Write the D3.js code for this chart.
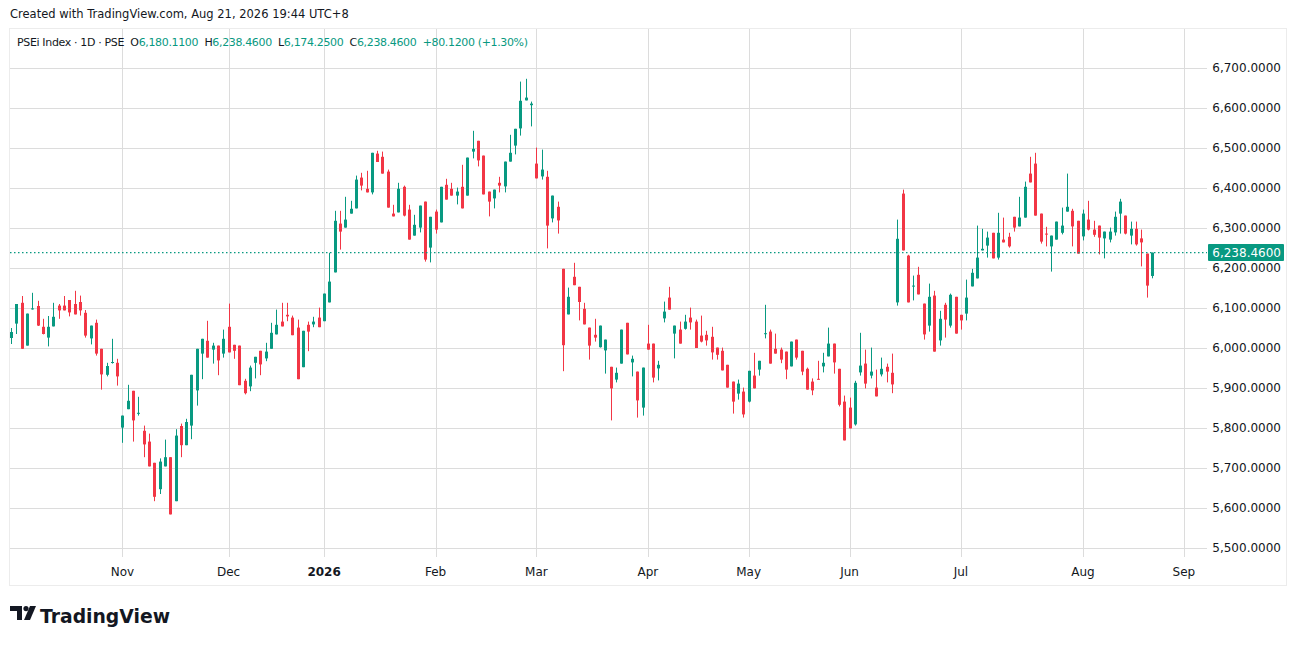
<!DOCTYPE html>
<html>
<head>
<meta charset="utf-8">
<script src="https://cdn.jsdelivr.net/npm/d3@7"></script>
<style>
  body { margin: 0; background: #fff; }
  svg text { font-family: "DejaVu Sans", "Noto Sans", sans-serif; white-space: pre; }
</style>
</head>
<body>
<svg id="chart" width="1296" height="646"></svg>
<script>
// PSEi daily candles (index = trading day)
var opens = [6025,6061,6113,6006,6097,6105,6053,6026,6054,6106,6106,6120,6110,6115,6088,6024,6063,5998,5933,5963,
  5963,5801,5847,5893,5837,5793,5766,5713,5647,5704,5727,5617,5805,5757,5806,5894,5986,6018,5996,6006,
  5986,6053,6008,6006,5918,5904,5963,5993,5974,5998,6034,6066,6083,6076,6051,5952,6058,6059,6076,6067,
  6114,6189,6311,6301,6336,6349,6426,6398,6389,6486,6478,6441,6336,6339,6403,6346,6281,6301,6366,6251,
  6341,6314,6408,6398,6381,6403,6381,6491,6518,6481,6391,6374,6413,6404,6466,6506,6549,6619,6607,6461,
  6429,6428,6324,6353,6198,6084,6178,6153,6098,6051,6033,6002,5994,5953,5921,5961,6063,5964,5941,5851,
  6011,6011,5949,6074,6126,6036,6046,6048,6076,6066,6031,6033,6028,6001,5993,5958,5916,5886,5891,5866,
  5931,5946,6035,6041,5998,5996,5991,5954,6021,5993,5948,5916,5923,5954,5979,6011,5948,5866,5851,5809,
  5939,5961,5931,5901,5934,5953,5938,6114,6386,6231,6154,6183,6111,6056,6131,6019,6108,6056,6128,6083,
  6086,6154,6174,6244,6256,6288,6226,6271,6278,6328,6304,6326,6436,6461,6336,6286,6254,6271,6288,6341,
  6343,6318,6279,6321,6296,6306,6274,6271,6289,6336,6331,6281,6298,6274,6236,6180.11];
var highs = [6050,6110,6130,6086,6138,6118,6073,6080,6113,6110,6130,6120,6143,6131,6095,6056,6071,5998,5963,6023,
  5973,5831,5908,5893,5878,5806,5786,5713,5724,5771,5727,5797,5811,5823,5933,5998,6023,6068,6013,6006,
  6046,6111,6008,6006,5923,5956,5978,5993,6013,6063,6096,6113,6113,6081,6071,6043,6066,6078,6101,6136,
  6238,6343,6343,6378,6368,6431,6438,6443,6488,6493,6491,6446,6358,6413,6406,6358,6333,6356,6366,6328,
  6346,6403,6423,6413,6401,6458,6476,6543,6518,6481,6391,6396,6428,6466,6533,6548,6666,6673,6616,6501,
  6496,6443,6381,6366,6198,6151,6213,6153,6113,6051,6073,6056,6021,5953,5951,6046,6063,5981,5941,5951,
  6058,6011,5968,6116,6153,6056,6066,6083,6101,6071,6081,6043,6053,6001,6001,5958,5916,5921,5901,5943,
  5988,5968,6108,6046,6036,6001,5991,6016,6021,5993,5951,5924,5968,5988,6051,6011,5948,5881,5876,5918,
  6038,5996,6001,5946,5976,5961,5986,6321,6396,6233,6181,6203,6111,6161,6143,6093,6113,6136,6128,6083,
  6171,6198,6306,6298,6291,6288,6338,6326,6288,6328,6378,6416,6478,6488,6336,6303,6281,6316,6351,6436,
  6348,6318,6346,6368,6318,6306,6291,6301,6341,6373,6331,6316,6316,6296,6236,6238.46];
var lows = [6010,6035,5998,6006,6096,6055,6034,6004,6054,6073,6094,6079,6084,6081,6026,6009,5981,5896,5929,5961,
  5906,5763,5847,5766,5831,5727,5704,5617,5635,5704,5584,5617,5727,5757,5772,5856,5922,5976,5961,5932,
  5976,5989,5973,5907,5884,5892,5924,5932,5967,5998,6034,6054,6067,6032,5922,5952,5992,6052,6052,6067,
  6114,6189,6246,6301,6336,6349,6394,6389,6384,6465,6436,6351,6329,6339,6329,6271,6281,6289,6216,6214,
  6286,6314,6371,6381,6359,6349,6381,6474,6454,6384,6329,6349,6389,6389,6466,6484,6531,6619,6554,6424,
  6421,6249,6314,6286,5942,6084,6157,6069,6059,5971,6016,6001,5936,5819,5914,5961,5984,5929,5826,5831,
  5996,5914,5919,6064,6096,5974,6011,6046,6046,6000,6014,6006,5971,5971,5944,5901,5836,5871,5826,5864,
  5899,5931,6024,5961,5986,5962,5922,5954,5971,5932,5896,5882,5921,5939,5979,5936,5854,5769,5799,5806,
  5931,5899,5924,5879,5929,5914,5887,6106,6244,6114,6119,6134,6021,6041,5991,6006,6026,6051,6036,6046,
  6069,6154,6174,6244,6226,6224,6221,6264,6251,6291,6304,6326,6414,6331,6261,6254,6191,6271,6284,6341,
  6254,6236,6269,6294,6278,6234,6224,6264,6281,6286,6284,6259,6256,6204,6126,6174.25];
var closes = [6040,6110,5998,6086,6099,6056,6035,6053,6078,6094,6094,6089,6084,6094,6031,6056,5986,5934,5955,5965,
  5929,5831,5868,5819,5838,5759,5704,5628,5716,5727,5584,5781,5757,5815,5933,5998,6023,5976,6006,5969,
  6023,5989,5993,5907,5887,5951,5978,5959,5991,6038,6058,6054,6079,6032,5922,6043,6041,6066,6052,6136,
  6166,6318,6291,6321,6348,6421,6406,6389,6488,6465,6436,6351,6329,6398,6331,6271,6308,6356,6221,6328,
  6296,6403,6371,6381,6391,6349,6476,6498,6469,6384,6366,6396,6406,6466,6488,6548,6618,6626,6611,6424,
  6446,6306,6381,6319,6007,6128,6157,6115,6059,6006,6026,6056,6021,5899,5938,6046,5984,5973,5869,5951,
  5996,5926,5958,6091,6096,6056,6011,6066,6064,6000,6016,6019,5989,5983,5944,5901,5866,5911,5834,5943,
  5899,5968,6037,5961,5986,5971,5946,6016,5976,5941,5896,5894,5921,5963,6011,5964,5858,5769,5799,5913,
  5956,5911,5941,5879,5948,5941,5909,6273,6244,6114,6156,6134,6034,6128,5991,6073,6071,6133,6036,6069,
  6126,6188,6226,6248,6276,6224,6288,6264,6254,6301,6326,6403,6414,6331,6266,6284,6281,6316,6306,6353,
  6304,6236,6336,6296,6283,6276,6291,6291,6328,6366,6286,6298,6259,6264,6156,6238.46];

var monthIdx = [21, 41, 59, 80, 99, 120, 139, 158, 179, 202, 221];
var monthLabels = ["Nov", "Dec", "2026", "Feb", "Mar", "Apr", "May", "Jun", "Jul", "Aug", "Sep"];
var priceTicks = d3.range(5500, 6701, 100);

var UP = "#089981", DOWN = "#F23645", GRID = "#dcdcdc";
var svg = d3.select("#chart");

var x = d3.scaleLinear().domain([0, opens.length - 1]).range([11, 1152]);
var y = d3.scaleLinear().domain([5500, 6700]).range([548, 68]);
var fmt = d3.format(",.4f");

// outer frame
svg.append("rect").attr("x", 9.5).attr("y", 28.5).attr("width", 1277).attr("height", 557)
  .attr("fill", "none").attr("stroke", "#ececec");

// grid
var grid = svg.append("g");
grid.selectAll(".h").data(priceTicks).join("line")
  .attr("x1", 10).attr("x2", 1207)
  .attr("y1", d => Math.round(y(d)) + 0.5).attr("y2", d => Math.round(y(d)) + 0.5)
  .attr("stroke", GRID);
grid.selectAll(".v").data(monthIdx).join("line")
  .attr("x1", d => Math.round(x(d)) + 0.5).attr("x2", d => Math.round(x(d)) + 0.5)
  .attr("y1", 29).attr("y2", 557)
  .attr("stroke", GRID);

// price axis labels
svg.append("g").selectAll("text").data(priceTicks).join("text")
  .attr("x", 1281).attr("y", d => y(d) + 4)
  .attr("text-anchor", "end").attr("font-size", 12).attr("fill", "#131722")
  .text(d => fmt(d));

// time axis labels
svg.append("g").selectAll("text").data(monthIdx).join("text")
  .attr("x", d => x(d)).attr("y", 576)
  .attr("text-anchor", "middle").attr("font-size", 12).attr("fill", "#131722")
  .attr("font-weight", (d, i) => monthLabels[i] === "2026" ? "bold" : "normal")
  .text((d, i) => monthLabels[i]);

// candles
var candles = svg.append("g").selectAll("g").data(opens).join("g");
candles.append("line")
  .attr("x1", (d, i) => Math.round(x(i)) + 0.5).attr("x2", (d, i) => Math.round(x(i)) + 0.5)
  .attr("y1", (d, i) => y(highs[i])).attr("y2", (d, i) => y(lows[i]))
  .attr("stroke", (d, i) => closes[i] >= opens[i] ? UP : DOWN);
candles.append("rect")
  .attr("x", (d, i) => Math.round(x(i)) - 1)
  .attr("width", 3)
  .attr("y", (d, i) => y(Math.max(opens[i], closes[i])))
  .attr("height", (d, i) => Math.max(1, Math.abs(y(opens[i]) - y(closes[i]))))
  .attr("fill", (d, i) => closes[i] >= opens[i] ? UP : DOWN);

// last price line and label
var last = closes[closes.length - 1];
svg.append("line").attr("x1", 10).attr("x2", 1207)
  .attr("y1", y(last)).attr("y2", y(last))
  .attr("stroke", UP).attr("stroke-dasharray", "1.5,2.5").attr("stroke-width", 1.3);
svg.append("rect").attr("x", 1208).attr("y", y(last) - 8.5).attr("width", 76).attr("height", 17)
  .attr("rx", 1).attr("fill", UP);
svg.append("text").attr("x", 1281).attr("y", y(last) + 4)
  .attr("text-anchor", "end").attr("font-size", 12).attr("fill", "#fff")
  .text(fmt(last));

// header
svg.append("text").attr("x", 10).attr("y", 18).attr("font-size", 11.5).attr("fill", "#131722")
  .text("Created with TradingView.com, Aug 21, 2026 19:44 UTC+8");
var hdr = svg.append("text").attr("x", 17).attr("y", 46).attr("font-size", 11)
  .attr("textLength", 511).attr("lengthAdjust", "spacing");
hdr.append("tspan").attr("fill", "#131722").text("PSEi Index · 1D · PSE  O");
hdr.append("tspan").attr("fill", UP).text(fmt(opens[opens.length - 1]));
hdr.append("tspan").attr("fill", "#131722").text("  H");
hdr.append("tspan").attr("fill", UP).text(fmt(highs[highs.length - 1]));
hdr.append("tspan").attr("fill", "#131722").text("  L");
hdr.append("tspan").attr("fill", UP).text(fmt(lows[lows.length - 1]));
hdr.append("tspan").attr("fill", "#131722").text("  C");
hdr.append("tspan").attr("fill", UP).text(fmt(last));
hdr.append("tspan").attr("fill", UP).text("  +80.1200 (+1.30%)");

// logo
var logo = svg.append("g").attr("transform", "translate(10,606)");
logo.append("path").attr("d", "M0 0H12V14H7V5H0Z").attr("fill", "#131722");
logo.append("circle").attr("cx", 16).attr("cy", 2.6).attr("r", 2.6).attr("fill", "#131722");
logo.append("path").attr("d", "M20 0H26L20 14H14Z").attr("fill", "#131722");
svg.append("text").attr("x", 40).attr("y", 623).attr("font-size", 19).attr("font-weight", "bold")
  .attr("fill", "#131722").attr("textLength", 130).attr("lengthAdjust", "spacingAndGlyphs")
  .text("TradingView");
</script>
</body>
</html>
